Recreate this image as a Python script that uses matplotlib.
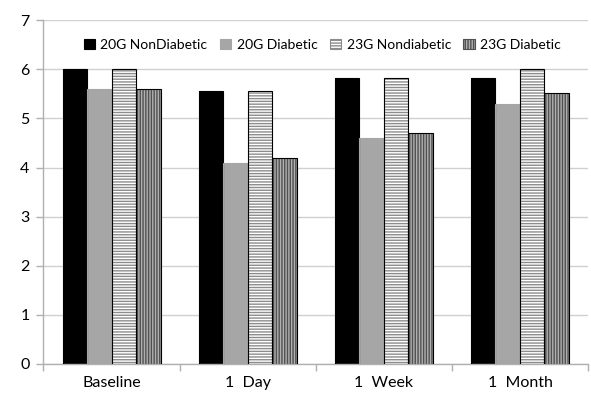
import matplotlib
matplotlib.use("Agg")
import matplotlib.pyplot as plt
import numpy as np
from matplotlib.patches import Patch

categories = ["Baseline", "1  Day", "1  Week", "1  Month"]
series_names = ["20G NonDiabetic", "20G Diabetic", "23G Nondiabetic", "23G Diabetic"]
nondiab_20g = [6.0, 5.55, 5.82, 5.82]
diab_20g = [5.6, 4.1, 4.6, 5.3]
nondiab_23g = [6.0, 5.55, 5.82, 6.0]
diab_23g = [5.6, 4.2, 4.7, 5.52]
yticks = [0, 1, 2, 3, 4, 5, 6, 7]

plt.rcParams['font.family'] = ['Lato', 'DejaVu Sans']
plt.rcParams['hatch.linewidth'] = 1.0

fig = plt.figure(figsize=(5.91, 3.95), dpi=100)
ax = fig.add_axes([0.0736, 0.0785, 0.9214, 0.8705])

x = np.arange(len(categories))
w = 0.18
offsets = [-1.5 * w, -0.5 * w, 0.5 * w, 1.5 * w]
series = [nondiab_20g, diab_20g, nondiab_23g, diab_23g]
styles = [
    dict(face="black", hatch=None, hc="black"),
    dict(face="#a6a6a6", hatch=None, hc="#a6a6a6"),
    dict(face="white", hatch="------", hc="#8c8c8c"),
    dict(face="#b0b0b0", hatch="||||||", hc="#505050"),
]
handles = []
for vals, off, st, name in zip(series, offsets, styles, series_names):
    ax.bar(x + off, vals, w, color=st["face"], edgecolor=st["hc"],
           hatch=st["hatch"], linewidth=0, zorder=2)
    ec = "black" if st["hatch"] else st["face"]
    ax.bar(x + off, vals, w, fill=False, edgecolor=ec, linewidth=0.8, zorder=3)
    handles.append(Patch(facecolor=st["face"], edgecolor=st["hc"] if st["hatch"] else st["face"],
                         hatch=st["hatch"], linewidth=0.8, label=name))

ax.set_xlim(-0.5, len(categories) - 0.5)
ax.set_ylim(0, 7)
ax.set_yticks(yticks)
ax.yaxis.grid(True, color="#d0d0d0", linewidth=1.0, zorder=0)
ax.set_axisbelow(True)

ax.set_xticks(np.arange(len(categories) + 1) - 0.5)
ax.set_xticklabels([])
ax.set_xticks(x, minor=True)
ax.set_xticklabels(categories, minor=True, fontsize=11.5)
ax.tick_params(axis="x", which="major", length=5, color="#b0b0b0", width=1)
ax.tick_params(axis="x", which="minor", length=0, pad=9)
ax.tick_params(axis="y", length=5, color="#b0b0b0", width=1, labelsize=11.5, pad=5)

for s in ["top", "right"]:
    ax.spines[s].set_visible(False)
for s in ["left", "bottom"]:
    ax.spines[s].set_color("#b0b0b0")
    ax.spines[s].set_linewidth(1.0)

leg = ax.legend(handles=handles, loc="center", bbox_to_anchor=(0.512, 0.928), ncol=4,
                frameon=False, fontsize=10, handlelength=0.8, handleheight=0.8,
                handletextpad=0.4, columnspacing=0.9)

fig.savefig("out.png", dpi=100)
